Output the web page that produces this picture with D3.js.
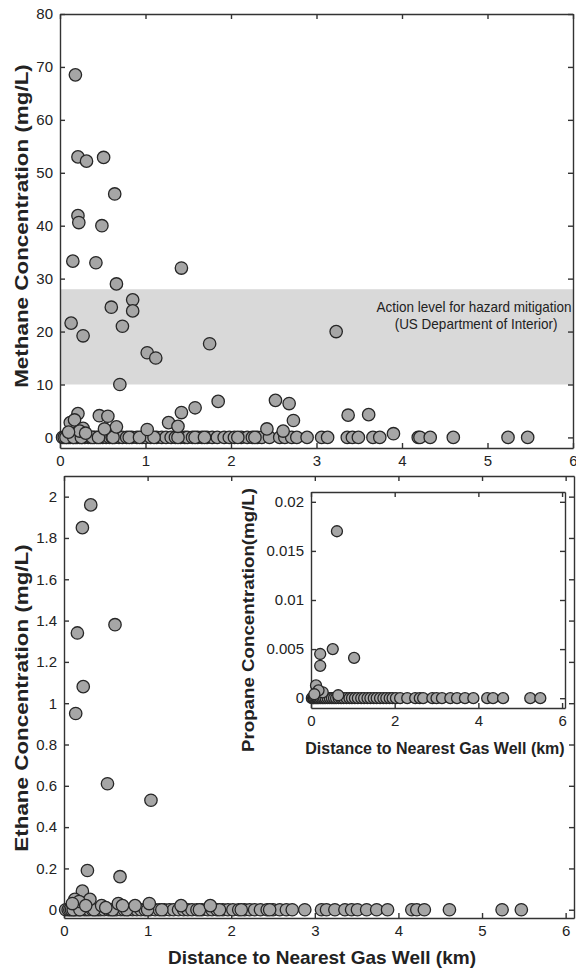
<!DOCTYPE html>
<html>
<head>
<meta charset="utf-8">
<script src="https://cdn.jsdelivr.net/npm/d3@7"></script>
<style>
  body { margin: 0; background: #fff; }
  text { font-family: "Liberation Sans", Arial, sans-serif; fill: #222; }
</style>
</head>
<body>
<div id="chart"></div>
<script>
// ---- data ----
// methane (mg/L) vs distance to nearest gas well (km)
const methaneDist = [0.18, 0.21, 0.31, 0.51, 0.64, 0.21, 0.22, 0.49, 0.15, 0.42, 0.66, 1.42,
  0.60, 0.85, 0.85, 0.13, 0.73, 0.27, 1.02, 1.12, 1.75, 0.70, 3.23,
  1.85, 1.58, 1.42, 1.27, 1.38, 0.21, 0.12, 0.17, 0.46, 0.56, 0.66, 0.27, 0.52, 1.02,
  2.52, 2.68, 2.73, 2.42, 2.61, 3.37, 3.61, 3.90, 0.23, 0.30, 0.10];
const methaneVal = [68.5, 53, 52.2, 52.9, 46, 41.9, 40.6, 40, 33.3, 33, 29, 32,
  24.6, 26, 23.9, 21.6, 21, 19.2, 16, 15, 17.7, 10, 20,
  6.8, 5.6, 4.7, 2.8, 2.1, 4.5, 2.8, 3.3, 4.1, 4.0, 2.0, 1.7, 1.6, 1.5,
  7.0, 6.4, 3.2, 1.6, 1.2, 4.2, 4.3, 0.7, 1.2, 0.8, 1.0];
// samples with no detectable methane
const methaneZeroDist = [0.03, 0.05, 0.08, 0.10, 0.12, 0.15, 0.18, 0.20, 0.23, 0.26, 0.29, 0.33,
  0.36, 0.40, 0.43, 0.47, 0.50, 0.54, 0.58, 0.61, 0.64, 0.69, 0.73, 0.78, 0.84, 0.90, 0.96,
  1.00, 1.06, 1.13, 1.19, 1.24, 1.30, 1.35, 1.41, 1.46, 1.49, 1.55, 1.61, 1.66, 1.72, 1.78,
  1.84, 1.92, 1.98, 2.04, 2.12, 2.19, 2.25, 2.31, 2.36, 2.45, 2.57, 2.63, 2.71, 2.77, 2.89,
  3.06, 3.13, 3.36, 3.42, 3.49, 3.66, 3.74, 4.19, 4.21, 4.33, 4.60, 5.24, 5.47,
  0.07, 0.16, 0.25, 0.38, 0.45, 0.62, 0.81, 0.93, 1.10, 1.38, 1.58, 1.69, 2.08, 2.28];

// ethane (mg/L)
const ethaneDist = [0.32, 0.22, 0.16, 0.61, 0.23, 0.14, 0.52, 1.04, 0.28, 0.67, 0.22, 0.13,
  0.31, 0.18, 0.10, 0.45, 0.65, 0.70, 0.85, 1.02, 1.40, 0.50, 0.26, 1.75];
const ethaneVal = [1.96, 1.85, 1.34, 1.38, 1.08, 0.95, 0.61, 0.53, 0.19, 0.16, 0.09, 0.05,
  0.05, 0.04, 0.03, 0.02, 0.03, 0.02, 0.02, 0.03, 0.02, 0.01, 0.02, 0.02];
const ethaneZeroDist = [0.02, 0.05, 0.07, 0.09, 0.12, 0.14, 0.17, 0.20, 0.24, 0.27, 0.30, 0.34,
  0.38, 0.41, 0.44, 0.48, 0.53, 0.56, 0.60, 0.63, 0.68, 0.72, 0.77, 0.82, 0.87, 0.92, 0.97,
  1.03, 1.09, 1.14, 1.20, 1.26, 1.31, 1.37, 1.43, 1.48, 1.53, 1.59, 1.65, 1.72, 1.77, 1.83,
  1.90, 1.96, 2.02, 2.09, 2.16, 2.22, 2.28, 2.35, 2.43, 2.50, 2.58, 2.66, 2.73, 2.88, 3.08,
  3.14, 3.24, 3.36, 3.44, 3.51, 3.62, 3.74, 3.87, 4.16, 4.22, 4.31, 4.61, 5.24, 5.47,
  0.11, 0.19, 0.36, 0.58, 0.75, 1.00, 1.17, 1.62, 1.86, 2.12, 2.46];

// propane (mg/L), inset
const propaneDist = [0.62, 0.52, 0.22, 0.22, 1.03, 0.12, 0.28, 0.65, 0.18, 0.08];
const propaneVal = [0.017, 0.005, 0.0045, 0.0033, 0.0041, 0.0013, 0.0006, 0.0003, 0.0008, 0.0004];
const propaneZeroDist = [0.02, 0.05, 0.07, 0.10, 0.13, 0.16, 0.19, 0.23, 0.27, 0.31, 0.35, 0.40,
  0.45, 0.50, 0.55, 0.60, 0.66, 0.72, 0.78, 0.85, 0.92, 0.98, 1.05, 1.12, 1.20, 1.27, 1.35,
  1.42, 1.50, 1.57, 1.65, 1.73, 1.80, 1.88, 1.95, 2.03, 2.13, 2.30, 2.49, 2.60, 2.68, 2.90,
  3.00, 3.13, 3.33, 3.49, 3.68, 3.88, 4.21, 4.35, 4.59, 5.24, 5.48];

// action level band (mg/L)
const actionBand = [10, 28];

// tick values
const methaneTicks = [0, 10, 20, 30, 40, 50, 60, 70, 80];
const ethaneTicks = [0, 0.2, 0.4, 0.6, 0.8, 1, 1.2, 1.4, 1.6, 1.8, 2];
const propaneTicks = [0, 0.005, 0.01, 0.015, 0.02];
const distTicks = [0, 1, 2, 3, 4, 5, 6];
const insetDistTicks = [0, 2, 4, 6];

// ---- layout ----
const width = 576, height = 969;

const svg = d3.select('#chart').append('svg')
    .attr('width', width)
    .attr('height', height);

const axisColour = '#333';

function toPoints(dist, val, zeroDist) {
  const pts = zeroDist.map(d => [d, 0]);
  dist.forEach((d, i) => pts.push([d, val[i]]));
  return pts;
}

// draws a MATLAB style box: inward ticks on all four sides
function drawBox(x, y, xTicks, yTicks, fontSize) {
  const g = svg.append('g');
  const [x0, x1] = x.range();
  const [y0, y1] = y.range();

  const fmt = d => String(d);

  g.append('g')
      .attr('transform', 'translate(0,' + y0 + ')')
      .call(d3.axisBottom(x).tickValues(xTicks).tickFormat(fmt)
        .tickSizeInner(-5).tickSizeOuter(0).tickPadding(7));
  g.append('g')
      .attr('transform', 'translate(0,' + y1 + ')')
      .call(d3.axisTop(x).tickValues(xTicks).tickFormat('')
        .tickSizeInner(-5).tickSizeOuter(0));
  g.append('g')
      .attr('transform', 'translate(' + x0 + ',0)')
      .call(d3.axisLeft(y).tickValues(yTicks).tickFormat(fmt)
        .tickSizeInner(-5).tickSizeOuter(0).tickPadding(7));
  g.append('g')
      .attr('transform', 'translate(' + x1 + ',0)')
      .call(d3.axisRight(y).tickValues(yTicks).tickFormat('')
        .tickSizeInner(-5).tickSizeOuter(0));

  g.selectAll('.domain, .tick line')
      .attr('stroke', axisColour)
      .attr('stroke-width', 1.4);
  g.selectAll('.tick text')
      .attr('font-size', fontSize)
      .attr('font-family', '"Liberation Sans", Arial, sans-serif')
      .attr('fill', '#222');
  return g;
}

function drawPoints(x, y, pts, r) {
  svg.append('g')
    .selectAll('circle')
    .data(pts)
    .enter().append('circle')
      .attr('cx', d => x(d[0]))
      .attr('cy', d => y(d[1]))
      .attr('r', r)
      .attr('fill', '#a6a6a6')
      .attr('stroke', '#262626')
      .attr('stroke-width', 1.3);
}

function yLabel(cx, cy, txt, size, stretch) {
  svg.append('text')
      .attr('transform', 'translate(' + cx + ',' + cy + ') scale(1,' + stretch + ') rotate(-90)')
      .attr('text-anchor', 'middle')
      .attr('font-size', size)
      .attr('font-weight', 'bold')
      .text(txt);
}

// ---- top panel: methane ----
const xTop = d3.scaleLinear().domain([0, 6]).range([60, 573]);
const yTop = d3.scaleLinear().domain([-2, 80]).range([448, 14]);

svg.append('rect')
    .attr('x', xTop(0))
    .attr('width', xTop(6) - xTop(0))
    .attr('y', yTop(actionBand[1]))
    .attr('height', yTop(actionBand[0]) - yTop(actionBand[1]))
    .attr('fill', '#d9d9d9');

const note = svg.append('text')
    .attr('transform', 'translate(474,312) scale(1,1.12)')
    .attr('text-anchor', 'middle')
    .attr('font-size', 13.5);
note.append('tspan').attr('x', 0).attr('y', 0).text('Action level for hazard mitigation');
note.append('tspan').attr('x', 2).attr('y', 15.5).text('(US Department of Interior)');

drawBox(xTop, yTop, distTicks, methaneTicks, 15);
drawPoints(xTop, yTop, toPoints(methaneDist, methaneVal, methaneZeroDist), 6.2);
yLabel(28, 226, 'Methane Concentration (mg/L)', 19, 1.18);

// ---- bottom panel: ethane ----
const xBot = d3.scaleLinear().domain([0, 6.1]).range([64, 574]);
const yBot = d3.scaleLinear().domain([-0.04, 2.1]).range([918, 476]);

drawBox(xBot, yBot, distTicks, ethaneTicks, 15);
drawPoints(xBot, yBot, toPoints(ethaneDist, ethaneVal, ethaneZeroDist), 6.2);
yLabel(28, 698, 'Ethane Concentration (mg/L)', 19, 1.18);

svg.append('text')
    .attr('x', 322)
    .attr('y', 964)
    .attr('text-anchor', 'middle')
    .attr('font-size', 19)
    .attr('font-weight', 'bold')
    .text('Distance to Nearest Gas Well (km)');

// ---- inset: propane ----
const xIn = d3.scaleLinear().domain([0, 6.07]).range([311, 565]);
const yIn = d3.scaleLinear().domain([-0.001, 0.021]).range([708, 492]);

svg.append('rect')
    .attr('x', 311).attr('y', 492)
    .attr('width', 565 - 311).attr('height', 708 - 492)
    .attr('fill', '#fff');

drawBox(xIn, yIn, insetDistTicks, propaneTicks, 15);
drawPoints(xIn, yIn, toPoints(propaneDist, propaneVal, propaneZeroDist), 5.5);
yLabel(254, 620, 'Propane Concentration(mg/L)', 16, 1.17);

svg.append('text')
    .attr('x', 435)
    .attr('y', 754)
    .attr('text-anchor', 'middle')
    .attr('font-size', 16)
    .attr('font-weight', 'bold')
    .text('Distance to Nearest Gas Well (km)');
</script>
</body>
</html>
